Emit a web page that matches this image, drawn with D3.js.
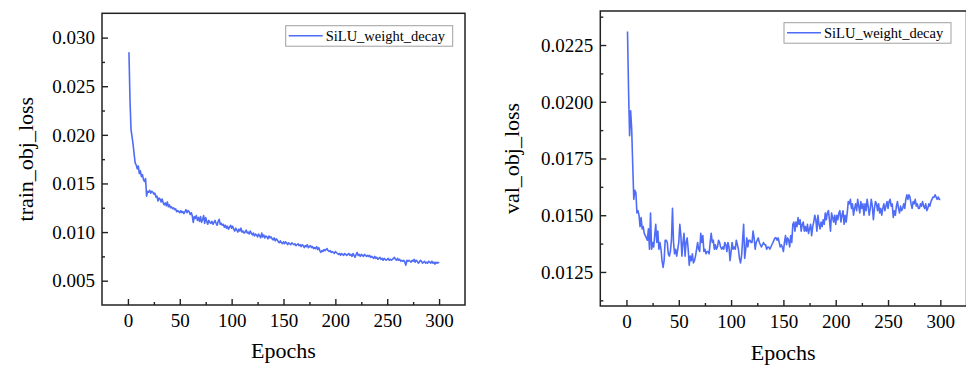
<!DOCTYPE html>
<html>
<head>
<meta charset="utf-8">
<script src="https://cdn.jsdelivr.net/npm/d3@7"></script>
<style>
  html, body { margin: 0; padding: 0; background: #fff; }
  svg { display: block; }
</style>
</head>
<body>
<div id="chart"></div>
<script>
// epochs 1..300
const epochs = d3.range(1, 301);

const seriesName = 'SiLU_weight_decay';

const trainObjLoss = [
  0.0285, 0.0235, 0.0205, 0.0198, 0.0190, 0.0180, 0.0171, 0.0169, 0.0165, 0.0168,
  0.0160, 0.0163, 0.0157, 0.0159, 0.0154, 0.0152, 0.0155, 0.0137, 0.0142, 0.0141,
  0.0143, 0.0140, 0.0142, 0.0141, 0.0139, 0.0140, 0.0136, 0.0137, 0.0132, 0.0135,
  0.0134, 0.0131, 0.0134, 0.0130, 0.0128, 0.0130, 0.0127, 0.0131, 0.0126, 0.0128,
  0.0125, 0.0126, 0.0124, 0.0125, 0.0123, 0.0124, 0.0121, 0.0122, 0.0121, 0.0120,
  0.0122, 0.0120, 0.0121, 0.0119, 0.0121, 0.0123, 0.0120, 0.0122, 0.0121, 0.0118,
  0.0120, 0.0117, 0.0110, 0.0116, 0.0114, 0.0117, 0.0112, 0.0115, 0.0111, 0.0116,
  0.0110, 0.0113, 0.0117, 0.0109, 0.0115, 0.0111, 0.0108, 0.0112, 0.0110, 0.0109,
  0.0111, 0.0108, 0.0110, 0.0112, 0.0109, 0.0107, 0.0111, 0.0113, 0.0108, 0.0109,
  0.0107, 0.0108, 0.0105, 0.0107, 0.0104, 0.0106, 0.0103, 0.0105, 0.0107, 0.0104,
  0.0106, 0.0103, 0.0101, 0.0104, 0.0102, 0.0100, 0.0103, 0.0101, 0.0104, 0.0100,
  0.0101, 0.0099, 0.0100, 0.0102, 0.0099, 0.0100, 0.0098, 0.0101, 0.0099, 0.0097,
  0.0099, 0.0096, 0.0098, 0.0097, 0.0095, 0.0098, 0.0096, 0.0094, 0.0099, 0.0095,
  0.0097, 0.0094, 0.0096, 0.0095, 0.0093, 0.0096, 0.0094, 0.0095, 0.0093, 0.0092,
  0.0094, 0.0091, 0.0093, 0.0092, 0.0090, 0.0089, 0.0091, 0.0089, 0.0088, 0.0090,
  0.0088, 0.0090, 0.0089, 0.0087, 0.0089, 0.0088, 0.0087, 0.0089, 0.0088, 0.0087,
  0.0088, 0.0086, 0.0087, 0.0088, 0.0086, 0.0087, 0.0085, 0.0087, 0.0086, 0.0084,
  0.0086, 0.0085, 0.0087, 0.0084, 0.0085, 0.0086, 0.0084, 0.0085, 0.0083, 0.0084,
  0.0083, 0.0085, 0.0082, 0.0084, 0.0081, 0.0079, 0.0081, 0.0080, 0.0082, 0.0081,
  0.0082, 0.0083, 0.0081, 0.0080, 0.0081, 0.0079, 0.0080, 0.0079, 0.0078, 0.0080,
  0.0079, 0.0078, 0.0077, 0.0078, 0.0076, 0.0078, 0.0077, 0.0076, 0.0078, 0.0077,
  0.0076, 0.0077, 0.0078, 0.0076, 0.0077, 0.0075, 0.0078, 0.0076, 0.0074, 0.0077,
  0.0079, 0.0076, 0.0077, 0.0075, 0.0077, 0.0076, 0.0075, 0.0077, 0.0076, 0.0075,
  0.0076, 0.0075, 0.0076, 0.0074, 0.0075, 0.0074, 0.0073, 0.0075, 0.0073, 0.0074,
  0.0072, 0.0073, 0.0074, 0.0072, 0.0073, 0.0071, 0.0073, 0.0072, 0.0071, 0.0072,
  0.0073, 0.0071, 0.0072, 0.0071, 0.0072, 0.0073, 0.0074, 0.0072, 0.0071, 0.0073,
  0.0071, 0.0072, 0.0070, 0.0071, 0.0070, 0.0071, 0.0069, 0.0066, 0.0071, 0.0070,
  0.0071, 0.0070, 0.0069, 0.0071, 0.0070, 0.0072, 0.0069, 0.0071, 0.0070, 0.0068,
  0.0069, 0.0071, 0.0070, 0.0068, 0.0069, 0.0070, 0.0068, 0.0069, 0.0068, 0.0070,
  0.0069, 0.0068, 0.0070, 0.0068, 0.0069, 0.0067, 0.0069, 0.0068, 0.0069, 0.0068
];

const valObjLoss = [
  0.0231, 0.0205, 0.0185, 0.0196, 0.0188, 0.0172, 0.0157, 0.0161, 0.0160, 0.0151,
  0.0152, 0.0150, 0.0145, 0.0149, 0.0144, 0.0145, 0.0142, 0.0141, 0.0140, 0.0139,
  0.0144, 0.0135, 0.0151, 0.0135, 0.0138, 0.0136, 0.0141, 0.0146, 0.0138, 0.0143,
  0.0135, 0.0138, 0.0135, 0.0130, 0.0127, 0.0130, 0.0139, 0.0139, 0.0138, 0.0133,
  0.0132, 0.0134, 0.0139, 0.0153, 0.0138, 0.0133, 0.0135, 0.0132, 0.0135, 0.0138,
  0.0146, 0.0141, 0.0132, 0.0138, 0.0142, 0.0132, 0.0138, 0.0140, 0.0135, 0.0128,
  0.0132, 0.0130, 0.0133, 0.0129, 0.0130, 0.0132, 0.0135, 0.0138, 0.0135, 0.0134,
  0.0142, 0.0138, 0.0141, 0.0134, 0.0135, 0.0133, 0.0134, 0.0134, 0.0133, 0.0138,
  0.0142, 0.0138, 0.0139, 0.0135, 0.0137, 0.0135, 0.0136, 0.0139, 0.0138, 0.0136,
  0.0135, 0.0136, 0.0135, 0.0138, 0.0137, 0.0134, 0.0138, 0.0136, 0.0130, 0.0134,
  0.0138, 0.0135, 0.0136, 0.0135, 0.0139, 0.0137, 0.0135, 0.0131, 0.0129, 0.0132,
  0.0139, 0.0146, 0.0131, 0.0135, 0.0140, 0.0136, 0.0139, 0.0139, 0.0138, 0.0138,
  0.0143, 0.0140, 0.0135, 0.0138, 0.0139, 0.0140, 0.0138, 0.0137, 0.0136, 0.0137,
  0.0138, 0.0137, 0.0137, 0.0135, 0.0136, 0.0136, 0.0135, 0.0136, 0.0137, 0.0138,
  0.0139, 0.0140, 0.0140, 0.0139, 0.0140, 0.0138, 0.0136, 0.0137, 0.0136, 0.0134,
  0.0138, 0.0141, 0.0137, 0.0140, 0.0139, 0.0136, 0.0141, 0.0138, 0.0146, 0.0147,
  0.0143, 0.0147, 0.0145, 0.0149, 0.0146, 0.0148, 0.0143, 0.0146, 0.0147, 0.0143,
  0.0145, 0.0143, 0.0146, 0.0142, 0.0144, 0.0146, 0.0141, 0.0145, 0.0147, 0.0150,
  0.0148, 0.0143, 0.0150, 0.0146, 0.0144, 0.0147, 0.0145, 0.0148, 0.0146, 0.0151,
  0.0148, 0.0151, 0.0152, 0.0148, 0.0143, 0.0151, 0.0149, 0.0147, 0.0150, 0.0146,
  0.0150, 0.0148, 0.0151, 0.0152, 0.0147, 0.0150, 0.0152, 0.0146, 0.0150, 0.0147,
  0.0151, 0.0156, 0.0155, 0.0157, 0.0153, 0.0155, 0.0150, 0.0153, 0.0155, 0.0152,
  0.0157, 0.0154, 0.0151, 0.0156, 0.0153, 0.0155, 0.0150, 0.0155, 0.0152, 0.0157,
  0.0154, 0.0150, 0.0153, 0.0157, 0.0154, 0.0148, 0.0153, 0.0156, 0.0155, 0.0152,
  0.0155, 0.0151, 0.0153, 0.0150, 0.0153, 0.0155, 0.0152, 0.0154, 0.0156, 0.0153,
  0.0156, 0.0157, 0.0154, 0.0155, 0.0149, 0.0152, 0.0150, 0.0154, 0.0156, 0.0153,
  0.0151, 0.0154, 0.0152, 0.0153, 0.0155, 0.0153, 0.0157, 0.0159, 0.0157, 0.0159,
  0.0158, 0.0155, 0.0153, 0.0156, 0.0155, 0.0157, 0.0154, 0.0155, 0.0153, 0.0153,
  0.0155, 0.0154, 0.0156, 0.0154, 0.0153, 0.0155, 0.0152, 0.0153, 0.0155, 0.0154,
  0.0156, 0.0157, 0.0158, 0.0158, 0.0159, 0.0158, 0.0157, 0.0158, 0.0157, 0.0157
];

const xTicks = [0, 50, 100, 150, 200, 250, 300];
const xMinorTicks = [25, 75, 125, 175, 225, 275];
const trainYTicks = [0.005, 0.010, 0.015, 0.020, 0.025, 0.030];
const trainYMinorTicks = [0.0075, 0.0125, 0.0175, 0.0225, 0.0275];
const valYTicks = [0.0125, 0.0150, 0.0175, 0.0200, 0.0225];
const valYMinorTicks = [0.01125, 0.01375, 0.01625, 0.01875, 0.02125, 0.02375];

const lineColor = '#4f6cf7';
const serif = '"Liberation Serif", "Times New Roman", serif';

const svg = d3.select('#chart')
  .append('svg')
  .attr('width', 966)
  .attr('height', 367);

svg.append('rect')
  .attr('width', 966)
  .attr('height', 367)
  .attr('fill', '#fff');

function drawPanel(opts) {
  const x = d3.scaleLinear()
    .domain([-25, 325])
    .range([opts.left, opts.right]);

  const y = d3.scaleLinear()
    .domain(opts.yDomain)
    .range([opts.bottom, opts.top]);

  const g = svg.append('g');

  // x axis, ticks pointing inward
  const xAxis = g.append('g')
    .attr('transform', `translate(0,${opts.bottom})`)
    .call(d3.axisBottom(x).tickValues(xTicks).tickSizeInner(-6).tickSizeOuter(0).tickPadding(9));
  xAxis.select('.domain').remove();

  const xMinor = g.append('g')
    .attr('transform', `translate(0,${opts.bottom})`)
    .call(d3.axisBottom(x).tickValues(xMinorTicks).tickSizeInner(-3).tickSizeOuter(0).tickFormat(''));
  xMinor.select('.domain').remove();

  const yAxis = g.append('g')
    .attr('transform', `translate(${opts.left},0)`)
    .call(d3.axisLeft(y).tickValues(opts.yTicks).tickSizeInner(-6).tickSizeOuter(0)
      .tickPadding(7).tickFormat(d3.format(opts.yFormat)));
  yAxis.select('.domain').remove();

  const yMinor = g.append('g')
    .attr('transform', `translate(${opts.left},0)`)
    .call(d3.axisLeft(y).tickValues(opts.yMinorTicks).tickSizeInner(-3).tickSizeOuter(0).tickFormat(''));
  yMinor.select('.domain').remove();

  g.selectAll('.tick line')
    .attr('stroke', '#222')
    .attr('stroke-width', 1.4);

  g.selectAll('.tick text')
    .attr('font-family', serif)
    .attr('font-size', 19)
    .attr('fill', '#000');

  yAxis.selectAll('.tick text').attr('dy', '0.33em');

  // frame
  g.append('rect')
    .attr('x', opts.left)
    .attr('y', opts.top)
    .attr('width', opts.right - opts.left)
    .attr('height', opts.bottom - opts.top)
    .attr('fill', 'none')
    .attr('stroke', '#222')
    .attr('stroke-width', 1.5);

  const line = d3.line()
    .x((d, i) => x(epochs[i]))
    .y((d) => y(d));

  g.append('path')
    .datum(opts.values)
    .attr('fill', 'none')
    .attr('stroke', lineColor)
    .attr('stroke-width', 1.6)
    .attr('stroke-linejoin', 'round')
    .attr('d', line);

  // axis titles
  g.append('text')
    .attr('x', (opts.left + Math.min(opts.right, 966)) / 2)
    .attr('y', opts.xTitleY)
    .attr('text-anchor', 'middle')
    .attr('font-family', serif)
    .attr('font-size', 22)
    .attr('fill', '#000')
    .text('Epochs');

  g.append('text')
    .attr('transform', `translate(${opts.yTitleX},${(opts.top + opts.bottom) / 2}) rotate(-90)`)
    .attr('text-anchor', 'middle')
    .attr('font-family', serif)
    .attr('font-size', 22)
    .attr('fill', '#000')
    .text(opts.yTitle);

  // legend
  const lg = g.append('g')
    .attr('transform', `translate(${opts.legendX},${opts.legendY})`);
  lg.append('rect')
    .attr('width', 167)
    .attr('height', 20.5)
    .attr('fill', '#fff')
    .attr('stroke', '#a0a0a0')
    .attr('stroke-width', 1);
  lg.append('line')
    .attr('x1', 3)
    .attr('x2', 37)
    .attr('y1', 10)
    .attr('y2', 10)
    .attr('stroke', lineColor)
    .attr('stroke-width', 1.5);
  lg.append('text')
    .attr('x', 40)
    .attr('y', 15)
    .attr('font-family', serif)
    .attr('font-size', 14.5)
    .attr('fill', '#000')
    .text(seriesName);
}

drawPanel({
  left: 102, right: 465, top: 13.3, bottom: 305,
  yDomain: [0.0025, 0.0325],
  yTicks: trainYTicks, yMinorTicks: trainYMinorTicks, yFormat: '.3f',
  values: trainObjLoss,
  yTitle: 'train_obj_loss', yTitleX: 33,
  xTitleY: 358,
  legendX: 285.7, legendY: 25.7
});

drawPanel({
  left: 600.3, right: 966.5, top: 11, bottom: 306,
  yDomain: [0.011, 0.024],
  yTicks: valYTicks, yMinorTicks: valYMinorTicks, yFormat: '.4f',
  values: valObjLoss,
  yTitle: 'val_obj_loss', yTitleX: 519,
  xTitleY: 360,
  legendX: 784, legendY: 22.7
});
</script>
</body>
</html>
